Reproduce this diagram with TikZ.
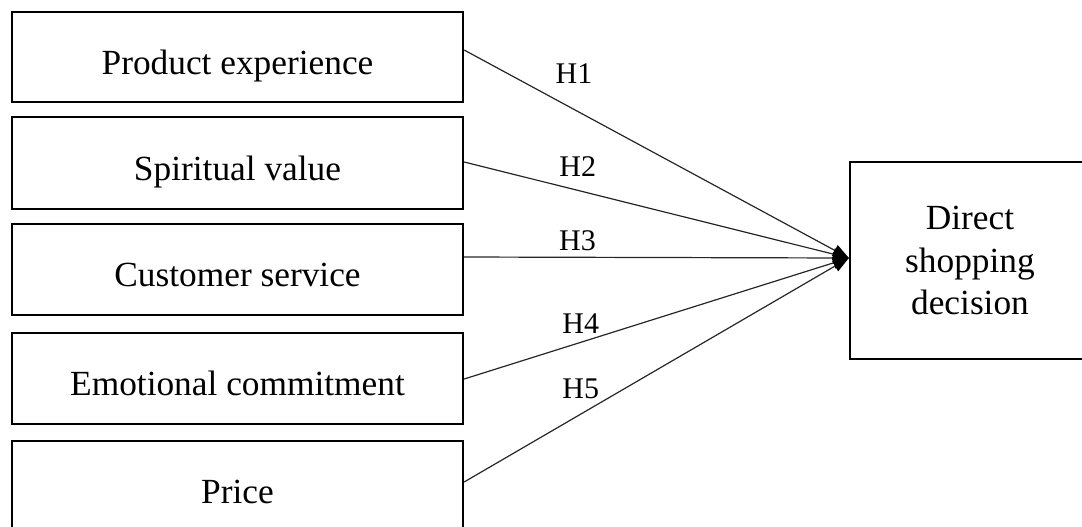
\documentclass[tikz,border=0pt]{standalone}
\usepackage{fontspec}
\setmainfont{Liberation Serif}
\usetikzlibrary{arrows.meta,calc}
\begin{document}
\begin{tikzpicture}[x=0.75pt,y=-0.75pt,
  factor/.style={draw,line width=1.7pt,minimum width=338.25pt,minimum height=68.25pt,inner sep=0pt,
    font=\fontsize{26.5}{31.9}\selectfont,text height=26pt,text depth=0.5pt},
  outcome/.style={draw,line width=1.7pt,minimum width=180pt,minimum height=147.75pt,inner sep=0pt,
    align=center,font=\fontsize{26.5}{31.9}\selectfont},
  hyp/.style={font=\fontsize{22.5}{26}\selectfont,anchor=base,inner sep=0pt},
  conn/.style={line width=0.9pt,draw=black!85,-{Triangle[length=12pt,width=9pt,color=black,fill=black]}}]
\useasboundingbox (0,0) rectangle (1082,526);
\clip (0,0) rectangle (1082,526);
\node[factor,minimum height=67.5pt] (b1) at (237.5,57) {Product experience};
\node[factor,minimum height=69pt] (b2) at (237.5,163) {Spiritual value};
\node[factor] (b3) at (237.5,269.5) {Customer service};
\node[factor] (b4) at (237.5,378.5) {Emotional commitment};
\node[factor] (b5) at (237.5,486.5) {Price};
\node[outcome] (d) at (970,260.5) {Direct\\shopping\\decision};
\coordinate (s1) at ($(b1.east)+(0,-7)$);
\coordinate (s2) at ($(b2.east)+(0,-1)$);
\coordinate (s3) at ($(b3.east)+(0,-12.5)$);
\coordinate (s4) at ($(b4.east)+(0,0.5)$);
\coordinate (s5) at ($(b5.east)+(0,-4.5)$);
\coordinate (tip) at ($(d.west)+(0,-2.5)$);
\draw[conn] (s1) -- (tip);
\draw[conn] (s2) -- (tip);
\draw[conn] (s3) -- (tip);
\draw[conn] (s4) -- (tip);
\draw[conn] (s5) -- (tip);
\node[hyp] (h1) at (574,83.3) {H1};
\node[hyp] (h2) at (577.8,176.7) {H2};
\node[hyp] (h3) at (577.5,250) {H3};
\node[hyp] (h4) at (580.8,333.3) {H4};
\node[hyp] (h5) at (580.8,398.3) {H5};
\end{tikzpicture}
\end{document}
